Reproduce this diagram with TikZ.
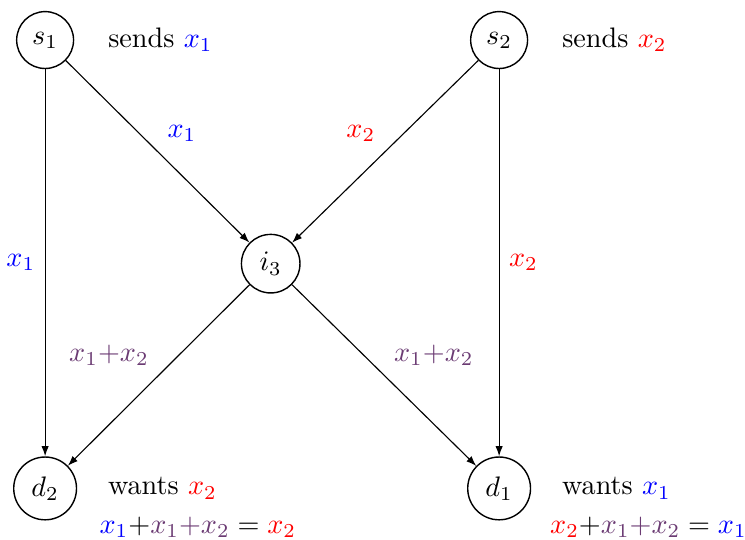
\documentclass[tikz,border=0pt]{standalone}
\usepackage{tikz}
\usetikzlibrary{arrows.meta,positioning}
\definecolor{colPurple}{HTML}{6B3B73}
\tikzset{
  station/.style={circle, draw, line width=0.5pt},
  flow/.style={
    -{Latex[length=3.6pt,width=2.6pt]},
    line width=0.4pt
  }
}
\newcommand{\xone}{{\color{blue}x_1}}
\newcommand{\xtwo}{{\color{red}x_2}}
\newcommand{\xsum}{{\color{colPurple}x_1{+}x_2}}

\begin{document}
\begin{tikzpicture}
    \useasboundingbox (-16pt,14.2pt) rectangle (248.2pt,-177pt);

    \node[station] (s1) at (0,0) {$s_1$};
    \node[station] (s2) at (161pt,0) {$s_2$};
    \node[station] (i3) at (80pt,-79.3pt) {$i_3$};
    \node[station] (d2) at (0,-159pt) {$d_2$};
    \node[station] (d1) at (161pt,-159pt) {$d_1$};

    \node[right=3mm of s1] (sends1) {sends $\xone$};
    \node[right=3mm of s2] (sends2) {sends $\xtwo$};
    \node[right=2.6mm of d2] (wants2) {wants $\xtwo$};
    \node[right=2.6mm of d1] (wants1) {wants $\xone$};
    \node[below=-0.8pt of wants2.south west, anchor=north west, xshift=-3pt] (eq2) {$\xone{+}\xsum = \xtwo$};
    \node[below=-0.8pt of wants1.south west, anchor=north west, xshift=-4.2pt] (eq1) {$\xtwo{+}\xsum = \xone$};

    \draw[flow] (s1) -- node[left] {$\xone$} (d2);
    \draw[flow] (s1) -- node[above right] {$\xone$} (i3);
    \draw[flow] (s2) -- node[above left] {$\xtwo$} (i3);
    \draw[flow] (s2) -- node[right] {$\xtwo$} (d1);
    \draw[flow] (i3) -- node[above left] {$\xsum$} (d2);
    \draw[flow] (i3) -- node[above right] {$\xsum$} (d1);
\end{tikzpicture}
\end{document}
